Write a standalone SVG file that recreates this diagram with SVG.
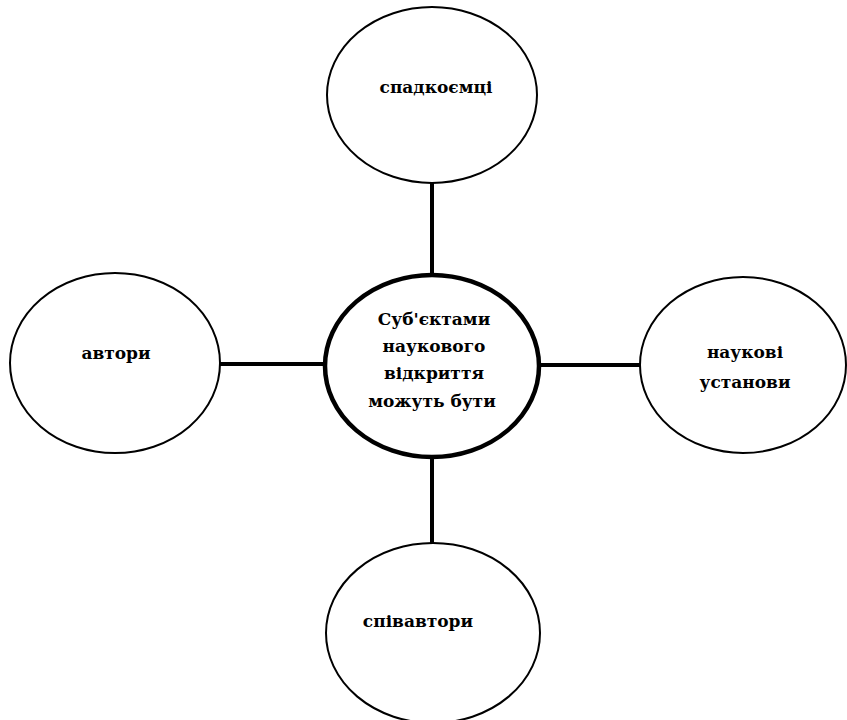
<svg xmlns="http://www.w3.org/2000/svg" width="847" height="720" viewBox="0 0 847 720">
<style>
.node{fill:#fff;stroke:#000;stroke-width:2}
.center{fill:#fff;stroke:#000;stroke-width:4.5}
.lbl{font-family:"DejaVu Serif","Liberation Serif",serif;font-weight:bold;font-size:17px;fill:#000;text-anchor:middle}
.con{stroke:#000;stroke-width:4;fill:none}
</style>
<rect width="847" height="720" fill="#fff"/>
<g id="connectors">
<line class="con" x1="432" y1="183" x2="432" y2="275"/>
<line class="con" x1="220" y1="364" x2="326" y2="364"/>
<line class="con" x1="538" y1="365" x2="641" y2="365"/>
<line class="con" x1="432" y1="457" x2="432" y2="543"/>
</g>
<g id="center">
<ellipse class="center" cx="432" cy="366" rx="107" ry="91"/>
<text class="lbl" x="434" y="325">Суб'єктами</text>
<text class="lbl" x="434" y="352">наукового</text>
<text class="lbl" x="434" y="379">відкриття</text>
<text class="lbl" x="432" y="407">можуть бути</text>
</g>
<g id="spadkoemtsi">
<ellipse class="node" cx="432" cy="95" rx="105" ry="88"/>
<text class="lbl" x="436" y="93">спадкоємці</text>
</g>
<g id="avtory">
<ellipse class="node" cx="115" cy="363" rx="105" ry="90"/>
<text class="lbl" x="116" y="359">автори</text>
</g>
<g id="ustanovy">
<ellipse class="node" cx="743" cy="365" rx="103" ry="88"/>
<text class="lbl" x="745" y="358">наукові</text>
<text class="lbl" x="745" y="388">установи</text>
</g>
<g id="spivavtory">
<ellipse class="node" cx="433" cy="633" rx="107" ry="90"/>
<text class="lbl" x="418" y="627">співавтори</text>
</g>
</svg>
